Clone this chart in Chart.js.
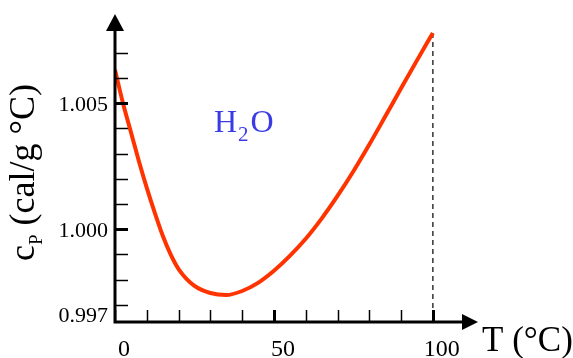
<!DOCTYPE html>
<html>
<head>
<meta charset="utf-8">
<script src="https://cdn.jsdelivr.net/npm/chart.js@4"></script>
<style>
    html, body { margin: 0; padding: 0; background: #fff; }
    #wrap { width: 573px; height: 358px; }
</style>
</head>
<body>
<div id="wrap"><canvas id="cpChart" width="573" height="358"></canvas></div>
<script>
// Specific heat of water vs temperature
const temps = [0, 2.5, 5, 7.5, 10, 12.5, 15, 17.5, 20, 25, 30, 35, 40, 45, 50, 55, 60, 65, 70, 75, 80, 85, 90, 95, 100];
const cpValues = [1.00632, 1.00501, 1.00386, 1.00271, 1.00164, 1.00066, 0.99975, 0.99900, 0.99842, 0.99775, 0.99747,
    0.99739, 0.99755, 0.99787, 0.99835, 0.99894, 0.99962, 1.00042, 1.00132, 1.00230, 1.00336, 1.00447, 1.00559,
    1.00670, 1.00779];

const xTicks = [0, 10, 20, 30, 40, 50, 60, 70, 80, 90, 100];
const xMajor = [50, 100];
const xLabels = [0, 50, 100];
const yTicks = [0.997, 0.998, 0.999, 1.000, 1.001, 1.002, 1.003, 1.004, 1.005, 1.006, 1.007];
const yMajor = [1.000, 1.005];
const yLabels = [0.997, 1.000, 1.005];

const serif = "'Liberation Serif', 'DejaVu Serif', serif";

// axes, arrows, inward ticks and all the text
const axesPlugin = {
    id: 'axesPlugin',
    afterDraw(chart) {
        const { ctx, chartArea: a, scales: { x, y } } = chart;
        ctx.save();
        ctx.strokeStyle = '#000';
        ctx.fillStyle = '#000';

        // y ticks (inside)
        yTicks.forEach(v => {
            const py = Math.round(y.getPixelForValue(v)) + 0.5;
            ctx.lineWidth = yMajor.includes(v) ? 3 : 1.5;
            ctx.beginPath();
            ctx.moveTo(a.left, py);
            ctx.lineTo(a.left + 13, py);
            ctx.stroke();
        });
        // x ticks (upward)
        xTicks.forEach(v => {
            const px = Math.round(x.getPixelForValue(v)) + 0.5;
            ctx.lineWidth = xMajor.includes(v) ? 3 : 1.5;
            ctx.beginPath();
            ctx.moveTo(px, a.bottom);
            ctx.lineTo(px, a.bottom - 12);
            ctx.stroke();
        });

        // axis lines
        ctx.lineWidth = 3;
        ctx.beginPath();
        ctx.moveTo(a.left, a.bottom);
        ctx.lineTo(a.left, a.top + 14);
        ctx.moveTo(a.left - 1.5, a.bottom);
        ctx.lineTo(a.right - 14, a.bottom);
        ctx.stroke();

        // arrow heads
        ctx.beginPath();
        ctx.moveTo(a.left, a.top);
        ctx.lineTo(a.left + 9, a.top + 17);
        ctx.lineTo(a.left - 9, a.top + 17);
        ctx.closePath();
        ctx.fill();
        ctx.beginPath();
        ctx.moveTo(a.right, a.bottom);
        ctx.lineTo(a.right - 16, a.bottom - 8);
        ctx.lineTo(a.right - 16, a.bottom + 8);
        ctx.closePath();
        ctx.fill();

        // y tick labels
        ctx.font = '22px ' + serif;
        ctx.textAlign = 'right';
        ctx.textBaseline = 'alphabetic';
        yLabels.forEach(v => {
            let py = y.getPixelForValue(v) + 7.5;
            if (v === yLabels[0]) py += 10;
            ctx.fillText(v.toFixed(3), a.left - 7, py);
        });

        // x tick labels
        ctx.font = '24px ' + serif;
        ctx.textAlign = 'center';
        xLabels.forEach(v => {
            ctx.fillText(String(v), x.getPixelForValue(v) + 9, 356);
        });

        // x title
        ctx.font = '35px ' + serif;
        ctx.textAlign = 'left';
        ctx.fillText('T (\u00B0C)', 482, 351);

        // y title, rotated
        ctx.save();
        ctx.translate(34, 261);
        ctx.rotate(-Math.PI / 2);
        ctx.font = '36px ' + serif;
        ctx.fillText('c', 0, 0);
        let w = ctx.measureText('c').width;
        ctx.font = '19px ' + serif;
        ctx.fillText('P', w, 8);
        w += ctx.measureText('P').width;
        ctx.font = '36px ' + serif;
        ctx.fillText(' (cal/g \u00B0C)', w, 0);
        ctx.restore();

        // H2O
        ctx.fillStyle = '#3b3be6';
        ctx.font = '32px ' + serif;
        ctx.fillText('H', 214, 132);
        let hx = 214 + ctx.measureText('H').width + 1;
        ctx.font = '21px ' + serif;
        ctx.fillText('2', hx, 141);
        hx += ctx.measureText('2').width + 2;
        ctx.font = '32px ' + serif;
        ctx.fillText('O', hx, 132);

        ctx.restore();
    }
};

new Chart(document.getElementById('cpChart'), {
    type: 'line',
    data: {
        datasets: [
            {
                data: temps.map((t, i) => ({ x: t, y: cpValues[i] })),
                borderColor: '#ff3300',
                borderWidth: 4,
                pointRadius: 0,
                cubicInterpolationMode: 'monotone',
                fill: false
            },
            {
                // dashed drop line at 100 °C
                data: [
                    { x: temps[temps.length - 1], y: cpValues[cpValues.length - 1] },
                    { x: temps[temps.length - 1], y: 0.99632 }
                ],
                borderColor: '#333',
                borderWidth: 1.5,
                borderDash: [5, 4],
                pointRadius: 0,
                fill: false
            }
        ]
    },
    options: {
        responsive: false,
        animation: false,
        layout: { padding: { left: 115, right: 95, top: 14, bottom: 36 } },
        plugins: {
            legend: { display: false },
            tooltip: { enabled: false }
        },
        scales: {
            x: { type: 'linear', min: 0, max: 114.2, display: false },
            y: { type: 'linear', min: 0.99632, max: 1.00854, display: false }
        }
    },
    plugins: [axesPlugin]
});
</script>
</body>
</html>
